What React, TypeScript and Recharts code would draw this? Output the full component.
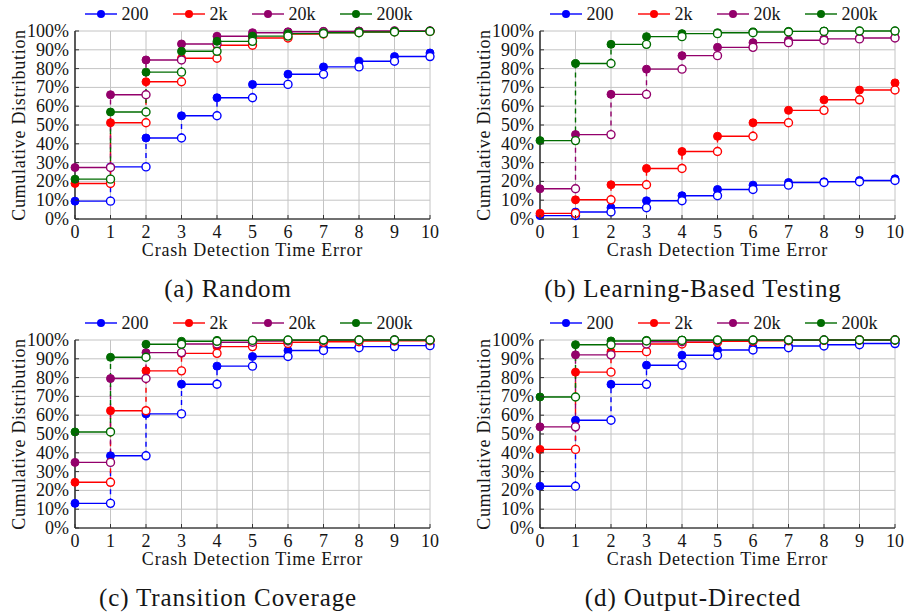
import React from 'react';
import { ComposedChart, Line, Scatter, XAxis, YAxis, CartesianGrid } from 'recharts';

const xTicks = [0, 1, 2, 3, 4, 5, 6, 7, 8, 9, 10];
const yTicks = [0, 10, 20, 30, 40, 50, 60, 70, 80, 90, 100];
const seriesNames = ['200', '2k', '20k', '200k'];
const seriesColors = ['#0000ff', '#ff0000', '#93006b', '#006c00'];

// (a) Random
const random200 = [9.5, 27.7, 43.1, 54.9, 64.5, 71.6, 77.0, 80.9, 83.9, 86.4, 88.3];
const random2k = [18.9, 51.2, 73.0, 85.5, 92.4, 96.3, 98.4, 99.2, 99.6, 99.8, 100];
const random20k = [27.4, 66.1, 84.6, 93.1, 97.2, 99.1, 99.6, 99.8, 100, 100, 100];
const random200k = [21.2, 56.9, 78.1, 89.2, 94.5, 97.3, 98.6, 99.1, 99.5, 99.8, 100];

// (b) Learning-Based Testing
const lbt200 = [1.8, 3.7, 6.0, 9.7, 12.4, 15.7, 18.0, 19.4, 19.8, 20.5, 21.4];
const lbt2k = [3.0, 10.2, 18.2, 26.9, 35.9, 44.0, 51.2, 57.8, 63.4, 68.6, 72.4];
const lbt20k = [16.1, 44.9, 66.3, 79.7, 86.9, 91.3, 93.8, 95.1, 95.8, 96.3, 96.8];
const lbt200k = [41.7, 82.7, 92.9, 97.0, 98.6, 99.1, 99.5, 99.8, 100, 100, 100];

// (c) Transition Coverage
const tc200 = [13.1, 38.4, 60.7, 76.5, 86.1, 91.2, 94.4, 95.9, 96.5, 97.0, 97.7];
const tc2k = [24.3, 62.4, 83.6, 92.9, 96.5, 98.2, 98.8, 99.1, 99.5, 99.6, 99.8];
const tc20k = [34.9, 79.5, 93.3, 97.9, 98.8, 99.5, 99.8, 100, 100, 100, 100];
const tc200k = [51.1, 90.8, 97.7, 99.3, 99.8, 100, 100, 100, 100, 100, 100];

// (d) Output-Directed
const od200 = [22.2, 57.3, 76.4, 86.6, 91.9, 94.7, 95.9, 96.8, 97.5, 98.1, 98.4];
const od2k = [41.8, 82.9, 93.8, 97.9, 98.8, 99.3, 99.6, 99.8, 100, 100, 100];
const od20k = [53.8, 92.1, 97.9, 99.1, 99.6, 99.8, 100, 100, 100, 100, 100];
const od200k = [69.7, 97.5, 99.5, 99.8, 100, 100, 100, 100, 100, 100, 100];

const panels = [
  { title: '(a) Random', series: [random200, random2k, random20k, random200k], left: 0, top: 0 },
  { title: '(b) Learning-Based Testing', series: [lbt200, lbt2k, lbt20k, lbt200k], left: 465, top: 0 },
  { title: '(c) Transition Coverage', series: [tc200, tc2k, tc20k, tc200k], left: 0, top: 309 },
  { title: '(d) Output-Directed', series: [od200, od2k, od20k, od200k], left: 465, top: 309 },
];

const FONT = 'Liberation Serif, DejaVu Serif, serif';
const TEXT = '#151515';

type Pt = { x: number; y: number | null };

function buildSteps(values: number[]) {
  const horiz: Pt[] = [];
  const vert: Pt[] = [];
  const filled: Pt[] = [];
  const open: Pt[] = [];
  values.forEach((v, i) => {
    filled.push({ x: xTicks[i], y: v });
    if (i < values.length - 1) {
      horiz.push({ x: xTicks[i], y: v }, { x: xTicks[i + 1], y: v }, { x: xTicks[i + 1], y: null });
      vert.push({ x: xTicks[i + 1], y: v }, { x: xTicks[i + 1], y: values[i + 1] }, { x: xTicks[i + 1], y: null });
      open.push({ x: xTicks[i + 1], y: v });
    }
  });
  return { horiz, vert, filled, open };
}

const XTick = (p: any) => (
  <g>
    <line x1={p.x} x2={p.x} y1={p.y} y2={p.y - 4} stroke="#333" strokeWidth={1} />
    <text x={p.x} y={p.y + 18.5} textAnchor="middle" style={{ fontFamily: FONT }} fontSize={18} fill={TEXT}>
      {p.payload.value}
    </text>
  </g>
);
const YTick = (p: any) => (
  <g>
    <line x1={p.x} x2={p.x + 4} y1={p.y} y2={p.y} stroke="#333" strokeWidth={1} />
    <text x={p.x - 6} y={p.y + 6} textAnchor="end" style={{ fontFamily: FONT }} fontSize={18} fill={TEXT}>
      {p.payload.value}%
    </text>
  </g>
);
const TopTick = (p: any) => <line x1={p.x} x2={p.x} y1={p.y} y2={p.y + 4} stroke="#333" strokeWidth={1} />;
const RightTick = (p: any) => <line x1={p.x} x2={p.x - 4} y1={p.y} y2={p.y} stroke="#333" strokeWidth={1} />;

const XLabel = (props: any) => {
  const vb = props.viewBox || { x: 75, y: 219, width: 355, height: 45 };
  return (
    <text x={vb.x + vb.width / 2} y={vb.y + 37} textAnchor="middle" style={{ fontFamily: FONT }} fontSize={18} letterSpacing={0.8} fill={TEXT}>
      Crash Detection Time Error
    </text>
  );
};
const YLabel = (props: any) => {
  const vb = props.viewBox || { x: 10, y: 31, width: 65, height: 188 };
  const cx = vb.x + vb.width - 50;
  const cy = vb.y + vb.height / 2;
  return (
    <text x={cx} y={cy} transform={`rotate(-90, ${cx}, ${cy})`} textAnchor="middle" style={{ fontFamily: FONT }} fontSize={18} letterSpacing={0.7} fill={TEXT}>
      Cumulative Distribution
    </text>
  );
};

const dotShape = (color: string, hollow: boolean) => (p: any) => (
  <circle cx={p.cx} cy={p.cy} r={4} fill={hollow ? '#ffffff' : color} stroke={color} strokeWidth={hollow ? 1.4 : 1} />
);

function Legend() {
  return (
    <div style={{ display: 'flex', alignItems: 'center', justifyContent: 'center', gap: 24, fontFamily: FONT, fontSize: 18, color: TEXT, lineHeight: '20px' }}>
      {seriesNames.map((n, i) => (
        <div key={n} style={{ display: 'flex', alignItems: 'center' }}>
          <svg width={32} height={12} style={{ display: 'block' }}>
            <line x1={0} x2={32} y1={6} y2={6} stroke={seriesColors[i]} strokeWidth={1.4} />
            <circle cx={16} cy={6} r={4} fill={seriesColors[i]} />
          </svg>
          <span style={{ marginLeft: 5 }}>{n}</span>
        </div>
      ))}
    </div>
  );
}

function Panel({ panel }: { panel: typeof panels[number] }) {
  const built = panel.series.map(buildSteps);
  return (
    <div style={{ position: 'absolute', left: panel.left, top: panel.top, width: 445, height: 305 }}>
      <div style={{ position: 'absolute', left: 71, top: 4, width: 355 }}>
        <Legend />
      </div>
      <ComposedChart width={445} height={265} margin={{ top: 31, right: 15, bottom: 1, left: 10 }}>
        <CartesianGrid stroke="#c4c4c4" strokeWidth={1} />
        <XAxis
          xAxisId={0}
          dataKey="x"
          type="number"
          domain={[0, 10]}
          ticks={xTicks}
          height={45}
          tickSize={0}
          tickMargin={0}
          tickLine={false}
          axisLine={{ stroke: '#000', strokeWidth: 1.2 }}
          tick={XTick}
          interval={0}
          label={XLabel}
        />
        <XAxis
          xAxisId="top"
          orientation="top"
          dataKey="x"
          type="number"
          domain={[0, 10]}
          ticks={xTicks}
          height={0}
          tickSize={0}
          tickMargin={0}
          tickLine={false}
          axisLine={{ stroke: '#000', strokeWidth: 1.2 }}
          tick={TopTick}
          interval={0}
        />
        <YAxis
          yAxisId={0}
          dataKey="y"
          type="number"
          domain={[0, 100]}
          ticks={yTicks}
          width={65}
          tickSize={0}
          tickMargin={0}
          tickLine={false}
          axisLine={{ stroke: '#000', strokeWidth: 1.2 }}
          tick={YTick}
          interval={0}
          label={YLabel}
        />
        <YAxis
          yAxisId="right"
          orientation="right"
          dataKey="y"
          type="number"
          domain={[0, 100]}
          ticks={yTicks}
          width={0}
          tickSize={0}
          tickMargin={0}
          tickLine={false}
          axisLine={{ stroke: '#000', strokeWidth: 1.2 }}
          tick={RightTick}
          interval={0}
        />
        {built.flatMap((b, si) => {
          const c = seriesColors[si];
          return [
            <Line key={`h${si}`} data={b.horiz} dataKey="y" stroke={c} strokeWidth={1.4} dot={false} activeDot={false} isAnimationActive={false} connectNulls={false} />,
            <Line key={`v${si}`} data={b.vert} dataKey="y" stroke={c} strokeWidth={1.4} strokeDasharray="5 4" dot={false} activeDot={false} isAnimationActive={false} connectNulls={false} />,
            <Scatter key={`f${si}`} data={b.filled} dataKey="y" shape={dotShape(c, false)} isAnimationActive={false} />,
            <Scatter key={`o${si}`} data={b.open} dataKey="y" shape={dotShape(c, true)} isAnimationActive={false} />,
          ];
        })}
      </ComposedChart>
      <div style={{ position: 'absolute', left: 28, top: 276, width: 400, textAlign: 'center', fontFamily: FONT, fontSize: 25, lineHeight: '25px', letterSpacing: 0.9, color: TEXT, whiteSpace: 'nowrap' }}>
        {panel.title}
      </div>
    </div>
  );
}

export default function App() {
  return (
    <div style={{ position: 'absolute', left: 0, top: 0, width: 904, height: 616, background: '#fff', overflow: 'hidden' }}>
      {panels.map((p) => (
        <Panel key={p.title} panel={p} />
      ))}
    </div>
  );
}
